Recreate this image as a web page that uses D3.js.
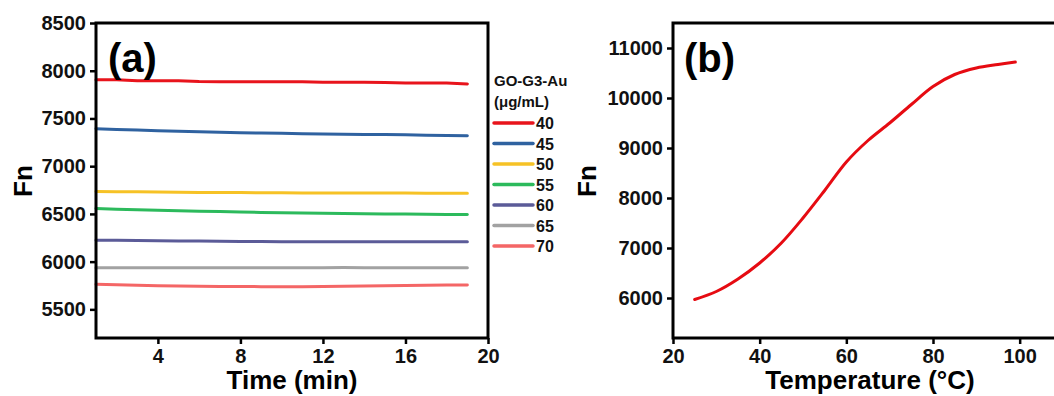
<!DOCTYPE html>
<html>
<head>
<meta charset="utf-8">
<script src="https://cdn.jsdelivr.net/npm/d3@7"></script>
<style>
  html, body { margin: 0; padding: 0; background: #fff; }
  svg { display: block; font-family: "Liberation Sans", Arial, sans-serif; }
</style>
</head>
<body>
<svg id="chart" width="1054" height="396"></svg>
<script>
// ---------- Data: panel (a) ----------
const timeMin = [1,2,3,4,5,6,7,8,9,10,11,12,13,14,15,16,17,18,19];
const concLabels = ["40","45","50","55","60","65","70"];
const seriesColors = ["#e8141c","#2f62a0","#f6c226","#2cba5c","#5b5b98","#a2a2a2","#f46666"];
const fn40 = [7905,7905,7896,7895,7894,7886,7885,7885,7885,7884,7884,7879,7878,7878,7877,7872,7872,7871,7862];
const fn45 = [7392,7385,7378,7372,7366,7360,7355,7350,7347,7344,7341,7338,7335,7333,7331,7328,7325,7322,7319];
const fn50 = [6735,6733,6731,6729,6727,6725,6724,6723,6722,6721,6720,6720,6719,6719,6718,6718,6717,6717,6717];
const fn55 = [6556,6550,6544,6538,6533,6528,6524,6520,6516,6513,6510,6507,6504,6502,6500,6498,6496,6494,6493];
const fn60 = [6225,6224,6222,6220,6217,6215,6213,6211,6210,6209,6209,6208,6208,6208,6208,6208,6208,6208,6208];
const fn65 = [5937,5937,5937,5937,5937,5937,5937,5937,5937,5937,5937,5937,5938,5937,5937,5937,5937,5937,5937];
const fn70 = [5762,5758,5752,5748,5744,5742,5740,5739,5738,5738,5738,5739,5741,5744,5747,5750,5752,5754,5755];
const seriesA = [fn40, fn45, fn50, fn55, fn60, fn65, fn70];
const xTicksA = [4, 8, 12, 16, 20];
const yTicksA = [5500, 6000, 6500, 7000, 7500, 8000, 8500];

// ---------- Data: panel (b) ----------
const temperature = [25,30,35,40,45,50,55,60,65,70,75,80,85,90,95,99];
const fnTemp = [5970,6130,6380,6700,7100,7600,8150,8720,9150,9500,9870,10230,10470,10600,10670,10720];
const xTicksB = [20, 40, 60, 80, 100];
const yTicksB = [6000, 7000, 8000, 9000, 10000, 11000];

const svg = d3.select("#chart");
const FONT_BOLD = 700;

function drawAxes(g, x, y, xTicks, yTicks, w, h) {
  const xAxis = g.append("g").attr("transform", `translate(0,${h})`)
    .call(d3.axisBottom(x).tickValues(xTicks).tickSize(6).tickSizeOuter(0).tickPadding(5).tickFormat(d3.format("d")));
  const yAxis = g.append("g")
    .call(d3.axisLeft(y).tickValues(yTicks).tickSize(6).tickSizeOuter(0).tickPadding(4).tickFormat(d3.format("d")));
  [xAxis, yAxis].forEach(a => {
    a.select(".domain").remove();
    a.selectAll(".tick line").attr("stroke", "#000").attr("stroke-width", 2.5);
    a.selectAll(".tick text").attr("fill", "#111").attr("font-size", 20).attr("font-weight", FONT_BOLD)
      .attr("font-family", "'Liberation Sans', Arial, sans-serif");
  });
  g.append("rect").attr("x", 0).attr("y", 0).attr("width", w).attr("height", h)
    .attr("fill", "none").attr("stroke", "#000").attr("stroke-width", 3);
}

// ---------- Panel (a) ----------
{
  const left = 96, top = 23, w = 392, h = 315;
  const g = svg.append("g").attr("transform", `translate(${left},${top})`);
  const x = d3.scaleLinear().domain([1, 20]).range([0, w]);
  const y = d3.scaleLinear().domain([5200, 8500]).range([h, 0]);
  const line = d3.line().x((d, i) => x(timeMin[i])).y(d => y(d));
  seriesA.forEach((s, k) => {
    g.append("path").datum(s).attr("d", line).attr("fill", "none")
      .attr("stroke", seriesColors[k]).attr("stroke-width", 3).attr("stroke-linecap", "round");
  });
  drawAxes(g, x, y, xTicksA, yTicksA, w, h);
  g.append("text").attr("x", 12).attr("y", 49).attr("font-size", 40).attr("font-weight", FONT_BOLD)
    .attr("fill", "#000").text("(a)");
  svg.append("text").attr("x", left + w / 2).attr("y", 389).attr("text-anchor", "middle")
    .attr("font-size", 26).attr("font-weight", FONT_BOLD).attr("fill", "#000").text("Time (min)");
  svg.append("text").attr("transform", "translate(32,181) rotate(-90)").attr("text-anchor", "middle")
    .attr("font-size", 26).attr("font-weight", FONT_BOLD).attr("fill", "#000").text("Fn");

  // legend
  const lg = svg.append("g").attr("transform", "translate(494,0)");
  lg.append("text").attr("x", 0).attr("y", 86).attr("font-size", 15).attr("font-weight", FONT_BOLD)
    .attr("fill", "#111").text("GO-G3-Au");
  lg.append("text").attr("x", 0).attr("y", 107).attr("font-size", 15).attr("font-weight", FONT_BOLD)
    .attr("fill", "#111").text("(μg/mL)");
  concLabels.forEach((c, k) => {
    const yy = 123 + k * 20.5;
    lg.append("line").attr("x1", 0).attr("x2", 39).attr("y1", yy).attr("y2", yy)
      .attr("stroke", seriesColors[k]).attr("stroke-width", 3.5).attr("stroke-linecap", "round");
    lg.append("text").attr("x", 42).attr("y", yy + 6).attr("font-size", 16).attr("font-weight", FONT_BOLD)
      .attr("fill", "#111").text(c);
  });
}

// ---------- Panel (b) ----------
{
  const left = 673, top = 23, w = 390, h = 315;
  const g = svg.append("g").attr("transform", `translate(${left},${top})`);
  const x = d3.scaleLinear().domain([20, 110]).range([0, w]);
  const y = d3.scaleLinear().domain([5200, 11500]).range([h, 0]);
  const line = d3.line().x((d, i) => x(temperature[i])).y(d => y(d)).curve(d3.curveCatmullRom.alpha(0.5));
  g.append("path").datum(fnTemp).attr("d", line).attr("fill", "none")
    .attr("stroke", "#e60b12").attr("stroke-width", 3).attr("stroke-linecap", "round");
  drawAxes(g, x, y, xTicksB, yTicksB, w, h);
  g.append("text").attr("x", 11).attr("y", 49).attr("font-size", 40).attr("font-weight", FONT_BOLD)
    .attr("fill", "#000").text("(b)");
  svg.append("text").attr("x", 870).attr("y", 389).attr("text-anchor", "middle")
    .attr("font-size", 26).attr("font-weight", FONT_BOLD).attr("fill", "#000").text("Temperature (°C)");
  svg.append("text").attr("transform", "translate(596,181) rotate(-90)").attr("text-anchor", "middle")
    .attr("font-size", 26).attr("font-weight", FONT_BOLD).attr("fill", "#000").text("Fn");
}
</script>
</body>
</html>
